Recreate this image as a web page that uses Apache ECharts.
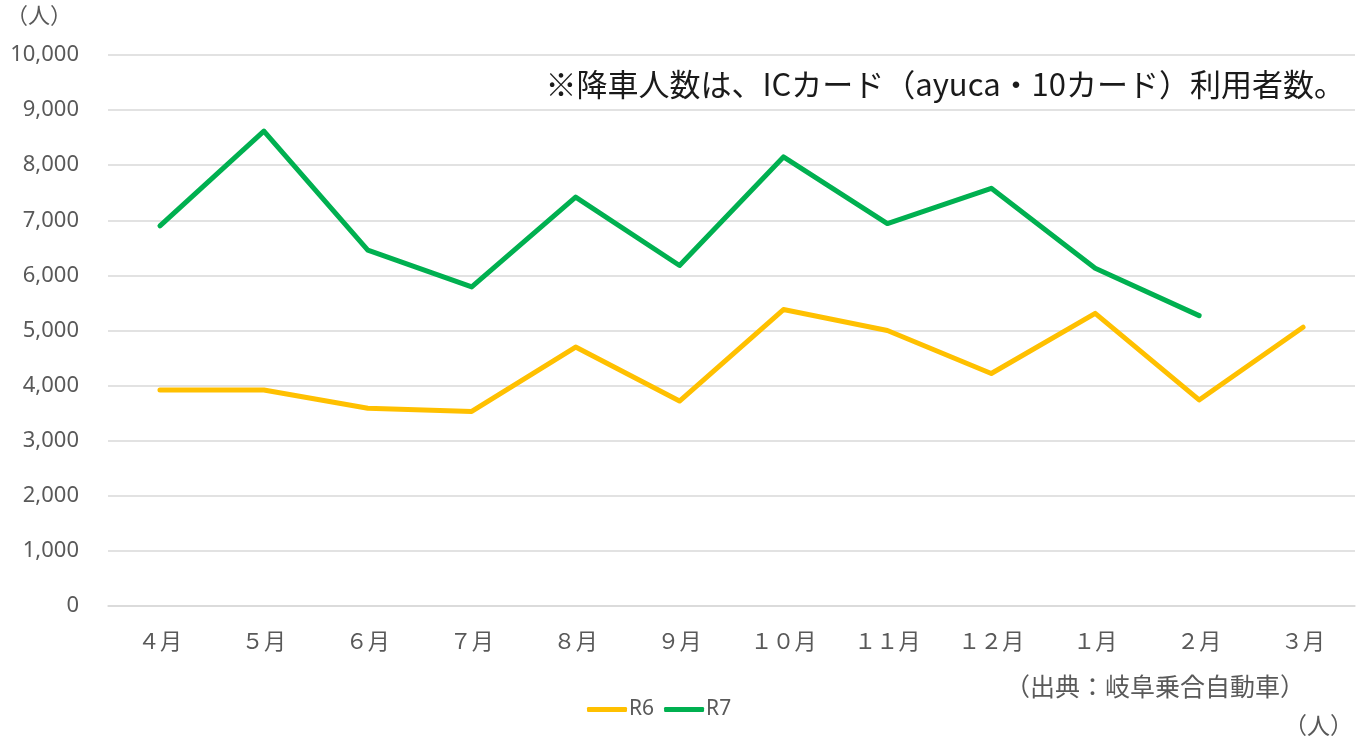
<!DOCTYPE html>
<html><head><meta charset="utf-8">
<script src="https://cdn.jsdelivr.net/npm/echarts@6/dist/echarts.min.js"></script>
<style>html,body{margin:0;padding:0;background:#fff}#c{width:1365px;height:746px}</style>
</head><body><div id="c"></div>
<script>
const categories = ['４月','５月','６月','７月','８月','９月','１０月','１１月','１２月','１月','２月','３月'];
const r6 = [3920, 3920, 3590, 3530, 4700, 3720, 5380, 5000, 4220, 5310, 3740, 5060];
const r7 = [6900, 8620, 6460, 5790, 7420, 6180, 8150, 6940, 7580, 6130, 5270, null];
const seriesNames = ['R6', 'R7'];
const colors = ['#FFC000', '#00B050'];
const note = '※降車人数は、ICカード（ayuca・10カード）利用者数。';
const source = '（出典：岐阜乗合自動車）';
const unit = '（人）';

const jp = '"Noto Sans CJK JP", "Noto Sans", sans-serif';
const chart = echarts.init(document.getElementById('c'), null, {renderer: 'canvas'});
chart.setOption({
  animation: false,
  backgroundColor: '#fff',
  grid: {left: 108, right: 10, top: 55, bottom: 140, containLabel: false},
  legend: {
    data: seriesNames, top: 699, left: 587, padding: 0,
    itemWidth: 40, itemHeight: 5, itemGap: 10,
    icon: 'roundRect',
    textStyle: {color: '#595959', fontSize: 21, fontFamily: '"Liberation Sans Narrow", "Noto Sans", sans-serif', padding: [0, 0, 0, -3]}
  },
  xAxis: {
    type: 'category', data: categories, boundaryGap: true,
    axisLine: {show: true, lineStyle: {color: '#d9d9d9', width: 1.5}},
    axisTick: {show: false},
    axisLabel: {color: '#595959', fontSize: 22, fontFamily: jp, margin: 24}
  },
  yAxis: {
    type: 'value', min: 0, max: 10000, interval: 1000,
    axisLine: {show: false}, axisTick: {show: false},
    splitLine: {lineStyle: {color: '#d9d9d9', width: 1.5}},
    axisLabel: {color: '#595959', fontSize: 22, fontFamily: '"Noto Sans", sans-serif', margin: 29,
      formatter: v => v.toLocaleString('en-US')}
  },
  series: [
    {name: seriesNames[0], type: 'line', data: r6, symbol: 'none', lineStyle: {color: colors[0], width: 5, cap: 'round', join: 'round'}, itemStyle: {color: colors[0]}},
    {name: seriesNames[1], type: 'line', data: r7, symbol: 'none', lineStyle: {color: colors[1], width: 5, cap: 'round', join: 'round'}, itemStyle: {color: colors[1]}}
  ],
  graphic: [
    {type: 'text', left: 6, top: 4, style: {text: unit, fill: '#595959', font: '22px ' + jp}},
    {type: 'text', right: 20, top: 69, style: {text: note, fill: '#1a1a1a', font: '31px ' + jp}},
    {type: 'text', right: 60, top: 674, style: {text: source, fill: '#595959', font: '25px ' + jp}},
    {type: 'text', right: 12, top: 714, style: {text: unit, fill: '#595959', font: '23px ' + jp}}
  ]
});
</script></body></html>
